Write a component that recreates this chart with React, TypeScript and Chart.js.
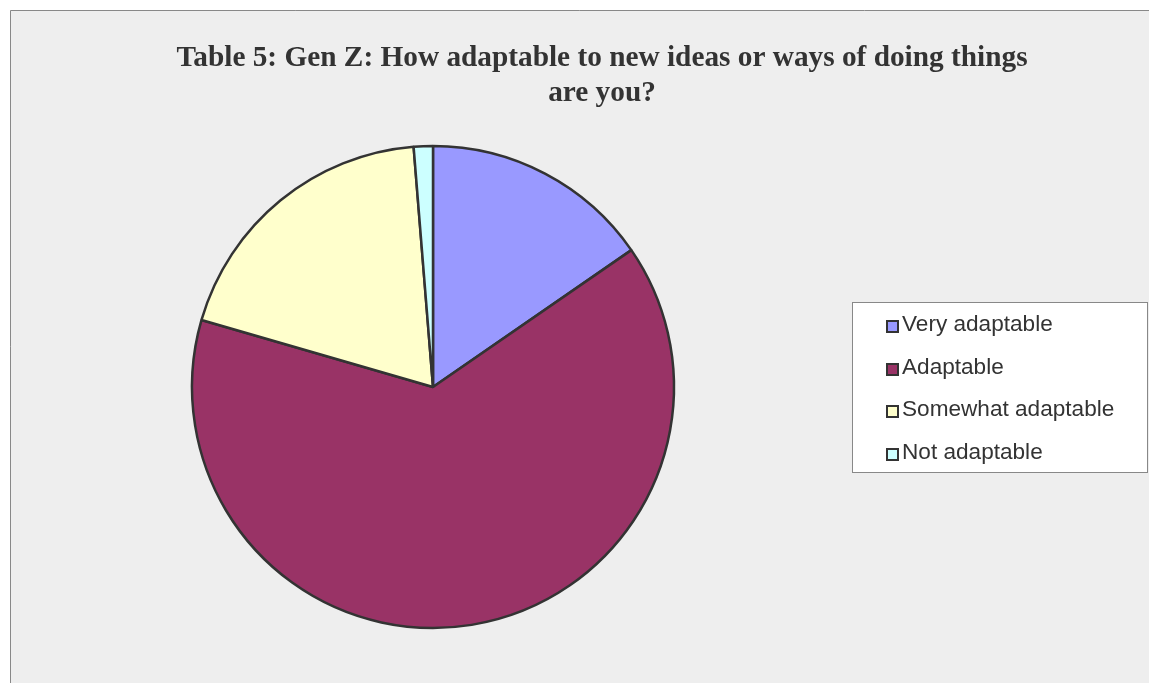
import React, { useEffect, useRef } from "react";
import { Chart, registerables } from "chart.js";

Chart.register(...registerables);

const categories = ["Very adaptable", "Adaptable", "Somewhat adaptable", "Not adaptable"];
const respondents = [12, 50, 15, 1];
const sliceColors = ["#9999FF", "#993366", "#FFFFCC", "#CCFFFF"];
const titleLines = [
  "Table 5: Gen Z: How adaptable to new ideas or ways of doing things",
  "are you?",
];

const W = 1149;
const H = 683;

const framePlugin = {
  id: "frameBg",
  beforeDraw(chart: any) {
    const ctx = chart.ctx;
    ctx.save();
    ctx.fillStyle = "#FFFFFF";
    ctx.fillRect(0, 0, chart.width, chart.height);
    ctx.fillStyle = "#EEEEEE";
    ctx.fillRect(10, 10, chart.width - 10, chart.height - 10);
    ctx.strokeStyle = "#888888";
    ctx.lineWidth = 1;
    ctx.beginPath();
    ctx.moveTo(10.5, chart.height);
    ctx.lineTo(10.5, 10.5);
    ctx.lineTo(chart.width, 10.5);
    ctx.stroke();
    ctx.restore();
  },
};

const titlePlugin = {
  id: "serifTitle",
  afterDraw(chart: any) {
    const ctx = chart.ctx;
    ctx.save();
    ctx.fillStyle = "#333333";
    ctx.font = "bold 29.3px 'Liberation Serif', 'Times New Roman', serif";
    ctx.textAlign = "center";
    ctx.textBaseline = "alphabetic";
    titleLines.forEach((line, i) => {
      ctx.fillText(line, 602, 66 + i * 35);
    });
    ctx.restore();
  },
};

const legendPlugin = {
  id: "boxLegend",
  afterDraw(chart: any) {
    const ctx = chart.ctx;
    const labels: string[] = chart.data.labels;
    const colors: string[] = chart.data.datasets[0].backgroundColor;
    ctx.save();
    ctx.fillStyle = "#FFFFFF";
    ctx.fillRect(852, 302, 295, 170);
    ctx.strokeStyle = "#888888";
    ctx.lineWidth = 1;
    ctx.strokeRect(852.5, 302.5, 295, 170);
    ctx.font = "22.6px 'Liberation Sans', Arial, sans-serif";
    ctx.textAlign = "left";
    ctx.textBaseline = "alphabetic";
    labels.forEach((lab, i) => {
      const base = 331 + i * 42.7;
      const top = Math.round(base - 11);
      ctx.fillStyle = colors[i];
      ctx.fillRect(886, top, 13, 13);
      ctx.strokeStyle = "#333333";
      ctx.lineWidth = 2;
      ctx.strokeRect(887, top + 1, 11, 11);
      ctx.fillStyle = "#333333";
      ctx.fillText(lab, 902, base);
    });
    ctx.restore();
  },
};

export default function App() {
  const ref = useRef<HTMLCanvasElement>(null);
  useEffect(() => {
    if (!ref.current) return;
    const chart = new Chart(ref.current, {
      type: "pie",
      data: {
        labels: categories,
        datasets: [
          {
            data: respondents,
            backgroundColor: sliceColors,
            borderColor: "#333333",
            borderWidth: 2.5,
          },
        ],
      },
      options: {
        responsive: false,
        animation: false,
        radius: 241,
        layout: { padding: { top: 140, bottom: 49, left: 183, right: 466 } },
        plugins: {
          legend: { display: false },
          title: { display: false },
          tooltip: { enabled: false },
        },
      } as any,
      plugins: [framePlugin, titlePlugin, legendPlugin],
    });
    return () => chart.destroy();
  }, []);
  return (
    <div style={{ position: "fixed", left: 0, top: 0, width: W, height: H }}>
      <canvas ref={ref} width={W} height={H} style={{ display: "block", width: W, height: H }} />
    </div>
  );
}
